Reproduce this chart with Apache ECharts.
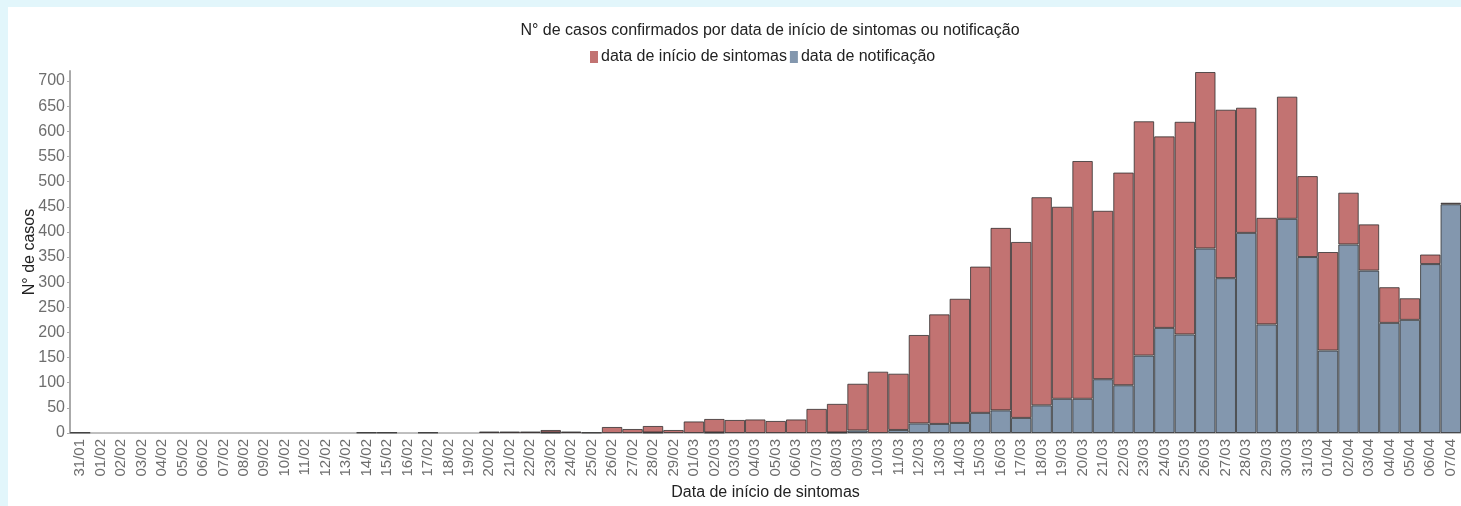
<!DOCTYPE html>
<html>
<head>
<meta charset="utf-8">
<script src="https://cdn.jsdelivr.net/npm/echarts@6/dist/echarts.min.js"></script>
<style>
html,body{margin:0;padding:0;background:#e2f6fb;width:1461px;height:506px;overflow:hidden;}
#chart{position:absolute;left:8px;top:7px;width:1453px;height:499px;background:#ffffff;}
</style>
</head>
<body>
<div id="chart"></div>
<script>
const categories = ["31/01",
"01/02","02/02","03/02","04/02","05/02","06/02","07/02","08/02","09/02","10/02",
"11/02","12/02","13/02","14/02","15/02","16/02","17/02","18/02","19/02","20/02",
"21/02","22/02","23/02","24/02","25/02","26/02","27/02","28/02","29/02",
"01/03","02/03","03/03","04/03","05/03","06/03","07/03","08/03","09/03","10/03",
"11/03","12/03","13/03","14/03","15/03","16/03","17/03","18/03","19/03","20/03",
"21/03","22/03","23/03","24/03","25/03","26/03","27/03","28/03","29/03","30/03","31/03",
"01/04","02/04","03/04","04/04","05/04","06/04","07/04"];

// data de notificação (bottom segment)
const notificacao = [0,
0,0,0,0,0,0,0,0,0,0,
0,0,0,0,0,0,0,0,0,0,
0,0,1,0,0,0,0,1,0,
0,1,0,0,0,0,0,1,5,0,
6,19,18,20,40,45,30,55,68,68,
107,95,154,209,196,367,308,398,216,426,350,
164,375,323,219,225,336,455];

// data de início de sintomas (top segment)
const inicioSintomas = [1,
0,0,0,0,0,0,0,0,0,0,
0,0,0,1,1,0,1,0,0,3,
3,3,5,3,1,12,8,13,6,
23,27,26,27,24,27,48,57,93,122,
112,176,218,247,291,363,350,414,382,473,
335,423,466,381,423,351,335,249,212,243,161,
196,103,92,71,43,19,3];

const yTicks = {min: 0, max: 720, interval: 50};

const seriesNames = ["data de início de sintomas", "data de notificação"];
const colors = {red: "#c27372", blue: "#8397ae"};

const toBar = arr => arr.map(v => v === 0 ? null : v);

const chart = echarts.init(document.getElementById('chart'), null, {renderer: 'canvas'});
const font = '"Liberation Sans", Arial, sans-serif';
chart.setOption({
  animation: false,
  title: {
    text: "N° de casos confirmados por data de início de sintomas ou notificação",
    left: 757, top: 11, textAlign: 'center',
    textStyle: {fontFamily: font, fontSize: 16, fontWeight: 'normal', color: '#222'}
  },
  legend: {
    data: seriesNames,
    left: 577, top: 37,
    itemWidth: 8, itemHeight: 12, itemGap: 3,
    icon: 'rect',
    itemStyle: {borderWidth: 0},
    textStyle: {fontFamily: font, fontSize: 16, color: '#222', padding: [0,0,0,-2]}
  },
  grid: {left: 62, right: 0, top: 64, bottom: 72, containLabel: false},
  xAxis: {
    type: 'category',
    data: categories,
    name: "Data de início de sintomas",
    nameLocation: 'middle',
    nameGap: 52,
    nameTextStyle: {fontFamily: font, fontSize: 16, color: '#222'},
    axisLine: {lineStyle: {color: '#aaaaaa', width: 1.5}},
    axisTick: {alignWithLabel: true, length: 4, lineStyle: {color: '#aaaaaa'}},
    axisLabel: {rotate: 90, interval: 0, margin: 6, fontFamily: font, fontSize: 15, color: '#6e6e6e'}
  },
  yAxis: {
    type: 'value',
    min: yTicks.min, max: yTicks.max, interval: yTicks.interval,
    name: "N° de casos",
    nameLocation: 'middle',
    nameGap: 32,
    nameMoveOverlap: false,
    nameRotate: 90,
    nameTextStyle: {fontFamily: font, fontSize: 16, color: '#222'},
    splitLine: {show: false},
    axisLine: {show: true, lineStyle: {color: '#aaaaaa', width: 2}},
    axisTick: {show: true, length: 3, lineStyle: {color: '#aaaaaa'}},
    axisLabel: {margin: 5, showMaxLabel: false, fontFamily: font, fontSize: 16, color: '#6e6e6e'}
  },
  series: [
    {
      name: seriesNames[1], type: 'bar', stack: 'total',
      data: toBar(notificacao),
      barCategoryGap: 0,
      itemStyle: {color: colors.blue, borderColor: 'rgba(40,40,40,0.75)', borderWidth: 1}
    },
    {
      name: seriesNames[0], type: 'bar', stack: 'total',
      data: toBar(inicioSintomas),
      barCategoryGap: 0,
      itemStyle: {color: colors.red, borderColor: 'rgba(40,40,40,0.75)', borderWidth: 1}
    }
  ]
});
</script>
</body>
</html>
